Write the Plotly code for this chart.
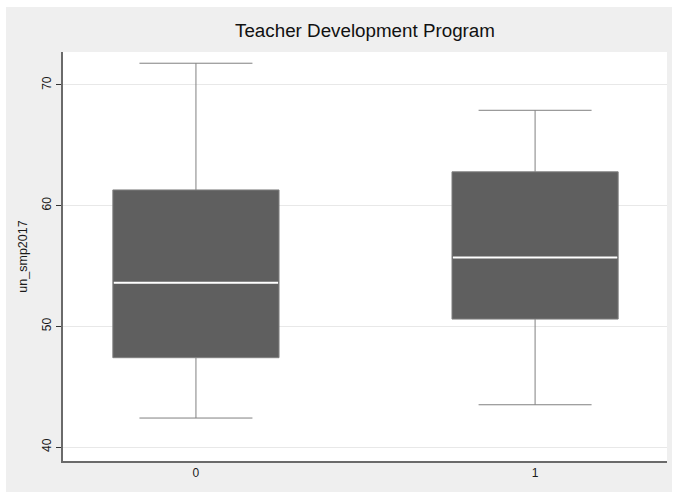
import plotly.graph_objects as go

# Data
groups = [0, 1]
lower_whisker = [42.4, 43.5]
q1_vals = [47.4, 50.6]
medians = [53.6, 55.7]
q3_vals = [61.3, 62.8]
upper_whisker = [71.8, 67.9]
y_ticks = [40, 50, 60, 70]

box_width = 0.49

fig = go.Figure()
fig.add_trace(go.Box(
    x=groups,
    q1=q1_vals, median=medians, q3=q3_vals,
    lowerfence=lower_whisker, upperfence=upper_whisker,
    width=box_width,
    whiskerwidth=0.68,
    fillcolor="#5f5f5f",
    line=dict(color="#808080", width=1),
    boxpoints=False,
    hoverinfo="skip",
    showlegend=False,
))
# white median lines
for g, m in zip(groups, medians):
    fig.add_trace(go.Scatter(
        x=[g - box_width / 2 + 0.003, g + box_width / 2 - 0.003], y=[m, m],
        mode="lines", line=dict(color="white", width=2),
        hoverinfo="skip", showlegend=False,
    ))

W, H = 675, 498
L, R, T, B = 63, 8, 52, 37
pw, ph = W - L - R, H - T - B

def px_to_paper_x(px):
    return (px - L) / pw

def px_to_paper_y(py):
    return (H - B - py) / ph

# gray outer frame
fig.add_shape(type="rect", xref="paper", yref="paper", layer="below",
              x0=px_to_paper_x(6), x1=px_to_paper_x(672),
              y0=px_to_paper_y(492), y1=px_to_paper_y(7),
              fillcolor="#efefef", line=dict(width=0))
# white plot region
fig.add_shape(type="rect", xref="paper", yref="paper", layer="below",
              x0=0, x1=1, y0=0, y1=1,
              fillcolor="white", line=dict(width=0))

fig.update_layout(
    width=W, height=H,
    margin=dict(l=L, r=R, t=T, b=B, autoexpand=False),
    paper_bgcolor="white",
    plot_bgcolor="white",
    font=dict(family="Liberation Sans, Arial, sans-serif", size=12, color="#1a1a1a"),
    title=dict(text="Teacher Development Program", x=0.5, xref="paper",
               y=1 - 30 / H, yanchor="middle",
               font=dict(size=18.8, color="#111111")),
    xaxis=dict(
        range=[-0.392, 1.389],
        tickvals=groups, ticktext=[str(g) for g in groups],
        showgrid=False, zeroline=False,
        showline=True, linecolor="#6a6a6a", linewidth=1.5,
        ticks="", tickfont=dict(size=12), automargin=False,
    ),
    yaxis=dict(
        range=[38.84, 72.73],
        tickvals=y_ticks,
        tickangle=-90,
        showgrid=True, gridcolor="#e8e8e8", gridwidth=1,
        zeroline=False,
        showline=True, linecolor="#6a6a6a", linewidth=1.5,
        ticks="outside", ticklen=5, tickcolor="#333333",
        title=dict(text="un_smp2017", font=dict(size=12.5), standoff=10),
        tickfont=dict(size=12), automargin=False,
    ),
)

fig.write_html("out.html", config={"displayModeBar": False},
               post_script="document.body.style.margin='0';")
